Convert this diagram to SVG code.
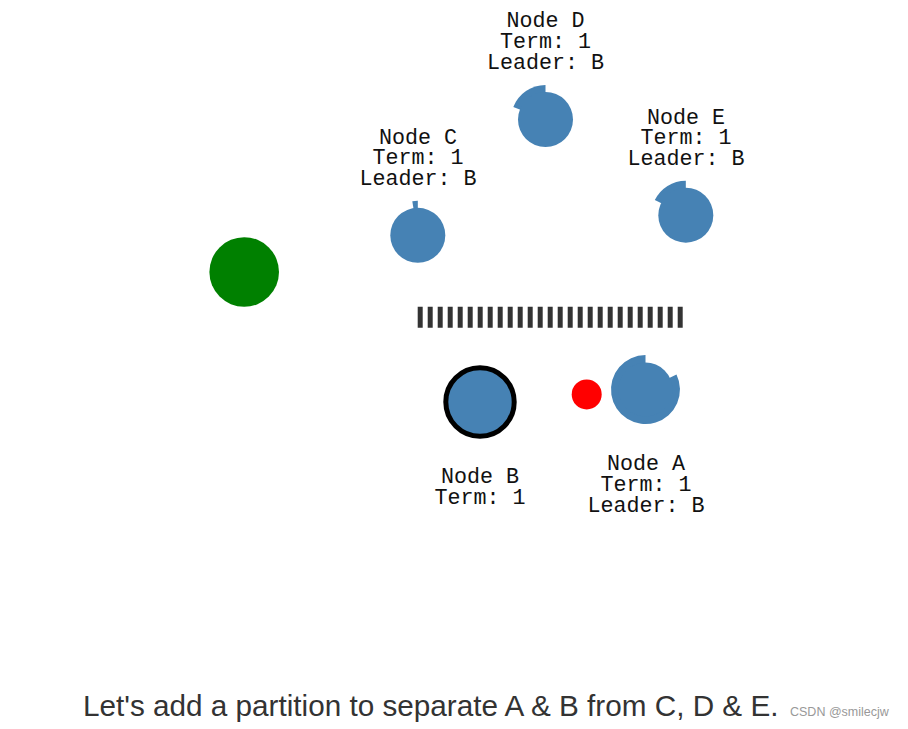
<svg xmlns="http://www.w3.org/2000/svg" width="908" height="729" viewBox="0 0 908 729">
<style>
.bg{fill:#4682b4}
.to{fill:#4682b4}
.lbl{font-family:"Liberation Mono","Courier New",monospace;font-size:21.7px;fill:#111;text-anchor:middle}
.cap{font-family:"Liberation Sans",Arial,sans-serif;font-size:29.7px;fill:#333}
.wm{font-family:"Liberation Sans",Arial,sans-serif;font-size:12.5px;fill:#999}
</style>
<rect width="908" height="729" fill="#fff"/>
<g id="connectors"></g>
<g id="partition">
<line x1="417.7" y1="317.2" x2="683" y2="317.2" stroke="#333" stroke-width="21" stroke-dasharray="5 5"/>
</g>
<g id="client">
<circle cx="244.2" cy="272" r="34.8" fill="#008000"/>
</g>
<g id="nodeD">
<path class="to" d="M545.5,119.5 L545.5,85 A34.5,34.5 0 0 0 513.3,107.1 Z"/>
<circle class="bg" cx="545.5" cy="119.5" r="27.5"/>
<text class="lbl" y="27.4"><tspan x="545.5">Node D</tspan><tspan x="545.5" dy="20.7">Term: 1</tspan><tspan x="545.5" dy="20.7">Leader: B</tspan></text>
</g>
<g id="nodeC">
<path class="to" d="M417.8,235.3 L417.8,200.8 A34.5,34.5 0 0 0 412.3,201.2 Z"/>
<circle class="bg" cx="417.8" cy="235.3" r="27.5"/>
<text class="lbl" y="143.9"><tspan x="418">Node C</tspan><tspan x="418" dy="20.4">Term: 1</tspan><tspan x="418" dy="20.4">Leader: B</tspan></text>
</g>
<g id="nodeE">
<path class="to" d="M685.8,215.2 L685.8,180.7 A34.5,34.5 0 0 0 654.8,200.1 Z"/>
<circle class="bg" cx="685.8" cy="215.2" r="27.5"/>
<text class="lbl" y="123.9"><tspan x="686">Node E</tspan><tspan x="686" dy="20.4">Term: 1</tspan><tspan x="686" dy="20.4">Leader: B</tspan></text>
</g>
<g id="nodeB">
<circle cx="480" cy="402" r="34.2" fill="#4682b4" stroke="#000" stroke-width="5"/>
<text class="lbl" y="483.4"><tspan x="480">Node B</tspan><tspan x="480" dy="20.4">Term: 1</tspan></text>
</g>
<g id="message">
<circle cx="586.7" cy="394.4" r="15" fill="#ff0000"/>
</g>
<g id="nodeA">
<path class="to" d="M645.5,389.5 L645.5,355 A34.5,34.5 0 1 0 676.5,374.4 Z"/>
<circle class="bg" cx="645.5" cy="389.5" r="27"/>
<text class="lbl" y="470.2"><tspan x="646">Node A</tspan><tspan x="646" dy="21.1">Term: 1</tspan><tspan x="646" dy="21.1">Leader: B</tspan></text>
</g>
<text class="cap" x="83" y="716">Let's add a partition to separate A &amp; B from C, D &amp; E.</text>
<text class="wm" x="790" y="715.5">CSDN @smilecjw</text>
</svg>
